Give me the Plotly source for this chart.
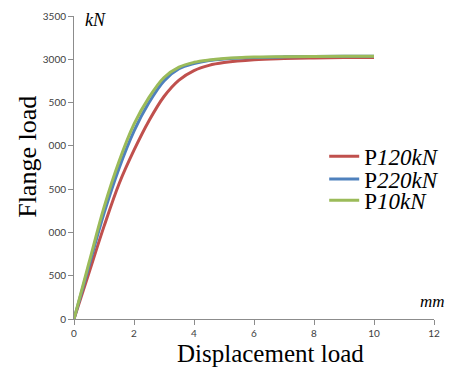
import plotly.graph_objects as go

# Data
disp = [0, 0.5, 1, 1.5, 2, 2.5, 3, 3.5, 4, 4.5, 5, 6, 7, 8, 9, 10]
p120 = [0, 535, 1070, 1560, 1950, 2290, 2570, 2760, 2870, 2930, 2962, 2995, 3008, 3015, 3020, 3022]
p220 = [0, 615, 1220, 1740, 2170, 2500, 2750, 2890, 2950, 2985, 3003, 3020, 3028, 3032, 3034, 3034]
p10 = [0, 650, 1290, 1820, 2250, 2560, 2790, 2910, 2965, 2992, 3008, 3025, 3030, 3033, 3035, 3035]

series_names = ["P<i>120kN</i>", "P<i>220kN</i>", "P<i>10kN</i>"]
series_colors = ["#C0504D", "#4F81BD", "#9BBB59"]

x_ticks = [0, 2, 4, 6, 8, 10, 12]
y_ticks = [0, 500, 1000, 1500, 2000, 2500, 3000, 3500]
y_ticktext = ["0", "500", "000", "500", "000", "500", "3000", "3500"]

serif = "Liberation Serif"
tickfont = dict(family="Lato", size=10, color="#404040")

fig = go.Figure()
legends = ["legend", "legend2", "legend3"]
for ys, name, col, lg in zip([p120, p220, p10], series_names, series_colors, legends):
    fig.add_trace(go.Scatter(
        x=disp, y=ys, mode="lines", name=name,
        line=dict(color=col, width=3, shape="spline", smoothing=1.0),
        legend=lg,
    ))

leg_common = dict(
    x=0.695, xanchor="left", yanchor="middle",
    bgcolor="rgba(0,0,0,0)",
    font=dict(family=serif, size=23, color="#000"),
    itemwidth=30,
)
fig.update_layout(
    width=456, height=367,
    margin=dict(l=74, r=22, t=16, b=48, autoexpand=False),
    paper_bgcolor="white", plot_bgcolor="white",
    font=dict(family=serif, color="#000"),
    showlegend=True,
    legend=dict(y=0.537, **leg_common),
    legend2=dict(y=0.462, **leg_common),
    legend3=dict(y=0.392, **leg_common),
    xaxis=dict(
        range=[0, 12], tickvals=x_ticks, showgrid=False, zeroline=False,
        showline=True, linecolor="#8c8c8c", linewidth=1,
        ticks="outside", ticklen=5, tickcolor="#8c8c8c",
        tickfont=tickfont,
    ),
    yaxis=dict(
        range=[0, 3500], tickvals=y_ticks, ticktext=y_ticktext,
        showgrid=False, zeroline=False,
        showline=True, linecolor="#8c8c8c", linewidth=1,
        ticks="outside", ticklen=5, tickcolor="#8c8c8c",
        tickfont=tickfont,
    ),
    annotations=[
        dict(text="Flange load", xref="paper", yref="paper", x=-0.128, y=0.535,
             textangle=-90, showarrow=False, xanchor="center", yanchor="middle",
             font=dict(family=serif, size=26, color="#000")),
        dict(text="Displacement load", xref="paper", yref="paper", x=0.547, y=-0.113,
             showarrow=False, xanchor="center", yanchor="middle",
             font=dict(family=serif, size=25, color="#000")),
        dict(text="<i>kN</i>", xref="paper", yref="paper", x=0.024, y=0.987,
             showarrow=False, xanchor="left", yanchor="middle",
             font=dict(family=serif, size=18, color="#000")),
        dict(text="<i>mm</i>", xref="paper", yref="paper", x=1.035, y=0.057,
             showarrow=False, xanchor="right", yanchor="middle",
             font=dict(family=serif, size=17, color="#000")),
    ],
)

fig.write_html("out.html")
